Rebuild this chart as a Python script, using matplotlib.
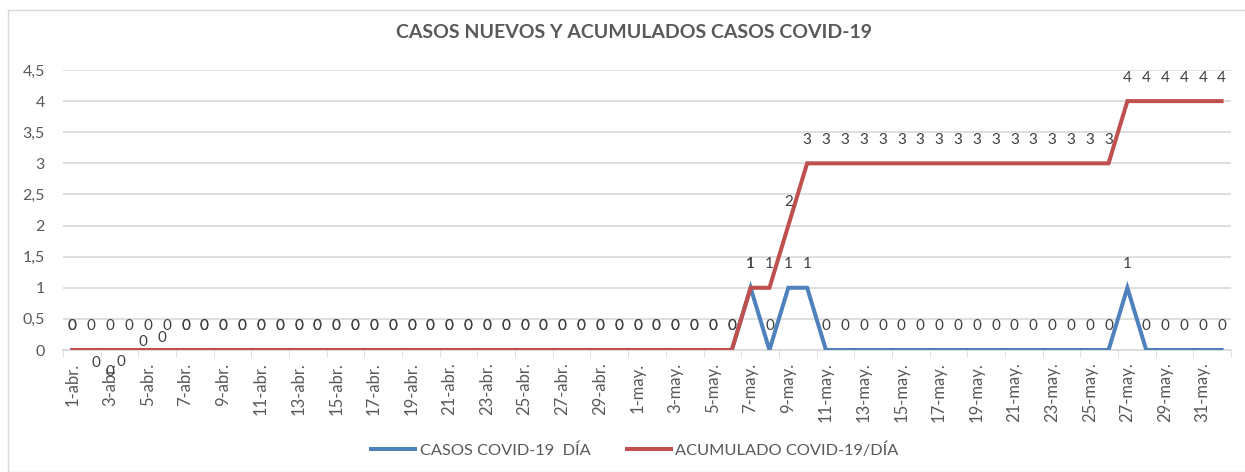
import matplotlib.pyplot as plt
from matplotlib.patches import Rectangle
from matplotlib.ticker import FuncFormatter, FixedLocator

plt.rcParams['font.family'] = ['Lato', 'DejaVu Sans']

# Categorias (1-abr a 1-jun)
fechas = [f"{d}-abr." for d in range(1, 31)] + [f"{d}-may." for d in range(1, 32)] + ["1-jun."]

# Casos nuevos por dia
casos_dia = [0] * 36 + [1, 0, 1, 1] + [0] * 16 + [1] + [0] * 5

# Acumulado
acumulado = ([0] * 36 + [1, 1, 2, 3]
             + [3, 3, 3, 3, 3, 3, 3, 3, 3, 3, 3, 3, 3, 3, 3, 3]
             + [4, 4, 4, 4, 4, 4])

azul = '#4F81BD'
rojo = '#C0504D'
gris = '#595959'

fig = plt.figure(figsize=(12.45, 4.72), dpi=100)
ax = fig.add_axes([63 / 1245, 1 - 350 / 472, (1231 - 63) / 1245, 280 / 472])

x = list(range(len(fechas)))
ax.plot(x, casos_dia, color=azul, lw=2.9, solid_joinstyle='miter', label='CASOS COVID-19  DÍA', zorder=3)
ax.plot(x, acumulado, color=rojo, lw=2.9, solid_joinstyle='miter', label='ACUMULADO COVID-19/DÍA', zorder=3)

# etiquetas de datos (algunas desplazadas como en el original)
nudge_azul = {1: (3.6, -9.4), 2: (0, -15.8), 3: (-5.8, -8.6), 4: (-3.6, 5.8), 5: (-3.6, 8.6)}
for i in x:
    ax.annotate(str(acumulado[i]), (i, acumulado[i]), xytext=(0, 17), textcoords='offset points',
                ha='center', va='center', fontsize=11, color='#404040', zorder=4)
    dx, dy = nudge_azul.get(i, (0, 17))
    ax.annotate(str(casos_dia[i]), (i, casos_dia[i]), xytext=(dx, dy), textcoords='offset points',
                ha='center', va='center', fontsize=11, color='#404040', zorder=4)

ax.set_xlim(-0.5, len(fechas) - 0.5)
ax.set_ylim(0, 4.5)
ax.set_yticks([0, 0.5, 1, 1.5, 2, 2.5, 3, 3.5, 4, 4.5])
ax.yaxis.set_major_formatter(FuncFormatter(lambda v, p: f"{v:g}".replace('.', ',')))
ax.grid(axis='y', color='#D9D9D9', lw=1.2)
ax.set_axisbelow(True)

ax.set_xticks(x[::2])
ax.set_xticklabels(fechas[::2], rotation=90, fontsize=12, color=gris)
ax.xaxis.set_minor_locator(FixedLocator([i - 0.5 for i in range(0, len(fechas) + 1, 2)]))
ax.tick_params(axis='x', which='major', length=0, pad=9)
ax.tick_params(axis='x', which='minor', length=5, color='#D9D9D9')
ax.tick_params(axis='y', length=0, labelsize=11.5, labelcolor=gris, pad=13)

for s in ['top', 'right', 'left']:
    ax.spines[s].set_visible(False)
ax.spines['bottom'].set_color('#D9D9D9')
ax.spines['bottom'].set_linewidth(1.2)

fig.text(634 / 1245, 1 - 33 / 472, 'CASOS NUEVOS Y ACUMULADOS CASOS COVID-19', ha='center', va='center',
         fontsize=14, fontweight='bold', color=gris)

fig.legend(loc='center', bbox_to_anchor=(635 / 1245, 1 - 450 / 472), ncol=2, frameon=False,
           fontsize=11.8, labelcolor=gris, handlelength=2.7, columnspacing=2.25, handletextpad=0.25)

fig.patches.append(Rectangle((8 / 1245, 0), 1, 1 - 10 / 472, transform=fig.transFigure,
                             fill=False, edgecolor='#D9D9D9', lw=1))

fig.savefig('out.png', dpi=100)
